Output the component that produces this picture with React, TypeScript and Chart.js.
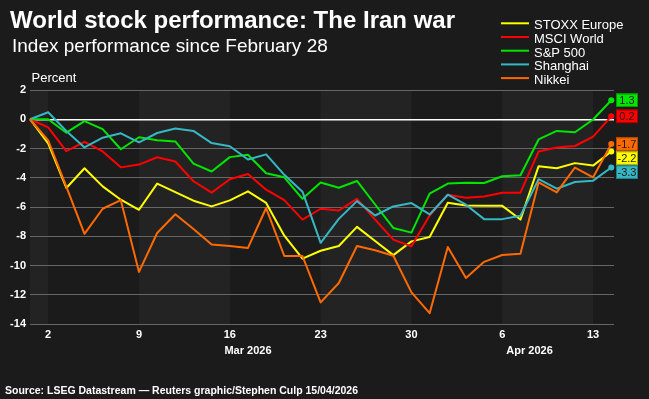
import { useEffect, useRef } from "react";
import { Chart, registerables } from "chart.js";

Chart.register(...registerables);

// Trading days on the x axis (index = position on the axis)
const tradingDays = [
  "2026-02-27",
  "2026-03-02", "2026-03-03", "2026-03-04", "2026-03-05", "2026-03-06",
  "2026-03-09", "2026-03-10", "2026-03-11", "2026-03-12", "2026-03-13",
  "2026-03-16", "2026-03-17", "2026-03-18", "2026-03-19", "2026-03-20",
  "2026-03-23", "2026-03-24", "2026-03-25", "2026-03-26", "2026-03-27",
  "2026-03-30", "2026-03-31", "2026-04-01", "2026-04-02", "2026-04-03",
  "2026-04-06", "2026-04-07", "2026-04-08", "2026-04-09", "2026-04-10",
  "2026-04-13", "2026-04-14",
];

// Weekly tick marks (Mondays) and their labels
const tickDays = ["2026-03-02", "2026-03-09", "2026-03-16", "2026-03-23", "2026-03-30", "2026-04-06", "2026-04-13"];
const tickLabels = ["2", "9", "16", "23", "30", "6", "13"];

const monthKeys = ["2026-03", "2026-04"];
const monthLabels = ["Mar 2026", "Apr 2026"];

// Percent change since February 28
const stoxxEurope = [
  0, -1.65, -4.7, -3.35, -4.59, -5.5, -6.19, -4.4, -4.98, -5.57, -5.96, -5.55, -4.93, -5.72, -7.96, -9.53,
  -8.99, -8.67, -7.36, -8.33, -9.29, -8.35, -8.05, -5.71, -5.89, -5.92, -5.92, -6.86, -3.21, -3.35, -3.0, -3.17, -2.2,
];
const msciWorld = [
  0, -0.55, -2.18, -1.54, -2.2, -3.29, -3.1, -2.6, -2.89, -4.24, -5.02, -4.1, -3.74, -4.82, -5.53, -6.86,
  -6.12, -6.24, -5.44, -6.86, -8.23, -8.69, -6.58, -5.16, -5.36, -5.28, -5.02, -5.02, -2.2, -1.93, -1.83, -1.19, 0.2,
];
const sp500 = [
  0, 0, -0.92, -0.13, -0.68, -2.05, -1.23, -1.43, -1.52, -3.03, -3.57, -2.59, -2.43, -3.69, -3.97, -5.44,
  -4.33, -4.68, -4.22, -5.83, -7.43, -7.75, -5.09, -4.4, -4.35, -4.36, -3.9, -3.83, -1.38, -0.8, -0.89, -0.02, 1.3,
];
const shanghai = [
  0, 0.48, -0.8, -1.93, -1.26, -0.96, -1.58, -0.94, -0.63, -0.8, -1.63, -1.85, -2.75, -2.4, -3.8, -4.95,
  -8.45, -6.81, -5.6, -6.58, -5.96, -5.73, -6.51, -5.16, -5.84, -6.83, -6.83, -6.6, -4.1, -4.75, -4.29, -4.2, -3.3,
];
const nikkei = [
  0, -1.45, -4.6, -7.84, -6.12, -5.53, -10.44, -7.78, -6.5, -7.5, -8.57, -8.66, -8.8, -6.07, -9.35, -9.35,
  -12.52, -11.2, -8.67, -8.96, -9.33, -11.84, -13.26, -8.74, -10.85, -9.75, -9.28, -9.2, -4.31, -5.0, -3.3, -3.97, -1.7,
];

const seriesNames = ["STOXX Europe", "MSCI World", "S&P 500", "Shanghai", "Nikkei"];
const seriesValues = [stoxxEurope, msciWorld, sp500, shanghai, nikkei];
const seriesColors = ["#ffff00", "#ff0000", "#00e600", "#35b8c4", "#ff6a00"];
const seriesBorders = ["#a8a800", "#a80000", "#009900", "#1f7f88", "#b34a00"];

const titleText = "World stock performance: The Iran war";
const subtitleText = "Index performance since February 28";
const unitText = "Percent";
const sourceText = "Source: LSEG Datastream \u2014 Reuters graphic/Stephen Culp 15/04/2026";

const FONT = "'Liberation Sans', Arial, Helvetica, sans-serif";
const PAGE_BG = "#1b1b1b";
const BAND_BG = "#232323";

const tickIndex = tickDays.map((d) => tradingDays.indexOf(d));

// Background with alternating weekly bands
const bandPlugin = {
  id: "bands",
  beforeDraw(chart: any) {
    const { ctx, chartArea, scales } = chart;
    ctx.save();
    ctx.fillStyle = PAGE_BG;
    ctx.fillRect(0, 0, chart.width, chart.height);
    const xs = scales.x;
    const edges = [xs.min, ...tickIndex, xs.max];
    for (let k = 0; k < edges.length - 1; k++) {
      if (k % 2 !== 0) continue;
      const x0 = xs.getPixelForValue(edges[k]);
      const x1 = xs.getPixelForValue(edges[k + 1]);
      ctx.fillStyle = BAND_BG;
      ctx.fillRect(x0, chartArea.top, x1 - x0, chartArea.bottom - chartArea.top);
    }
    ctx.restore();
  },
};

// Value boxes at the right-hand end of each line
const endLabelPlugin = {
  id: "endLabels",
  afterDatasetsDraw(chart: any) {
    const { ctx, chartArea } = chart;
    const boxH = 13.5;
    const step = 14;
    const items = seriesValues.map((vals, k) => {
      const meta = chart.getDatasetMeta(k);
      const pt = meta.data[vals.length - 1];
      return { k, y: pt.y, text: vals[vals.length - 1].toFixed(1) };
    });
    items.sort((a, b) => a.y - b.y);
    let prev = -Infinity;
    for (const it of items) {
      if (it.y < prev + step) it.y = prev + step;
      prev = it.y;
    }
    const x = chartArea.right + 2;
    const w = 22;
    ctx.save();
    for (const it of items) {
      ctx.fillStyle = seriesColors[it.k];
      ctx.fillRect(x, it.y - boxH / 2, w, boxH);
      ctx.strokeStyle = seriesBorders[it.k];
      ctx.lineWidth = 1;
      ctx.strokeRect(x + 0.5, it.y - boxH / 2 + 0.5, w - 1, boxH - 1);
      ctx.fillStyle = "#1a1a1a";
      ctx.font = `11px ${FONT}`;
      ctx.textAlign = "center";
      ctx.textBaseline = "middle";
      ctx.fillText(it.text, x + w / 2, it.y + 0.5);
    }
    ctx.restore();
  },
};

// Titles, legend, month labels and source line
const textPlugin = {
  id: "texts",
  afterDraw(chart: any) {
    const { ctx, scales } = chart;
    ctx.save();
    ctx.fillStyle = "#ffffff";
    ctx.textBaseline = "alphabetic";
    ctx.textAlign = "left";

    ctx.font = `bold 24px ${FONT}`;
    ctx.fillText(titleText, 10, 27.5);

    ctx.font = `19px ${FONT}`;
    ctx.fillText(subtitleText, 12, 51.5);

    ctx.font = `13px ${FONT}`;
    ctx.fillText(unitText, 31.5, 81.5);

    // legend
    const lx = 501;
    const ly = 29.3;
    const rowH = 13.7;
    seriesNames.forEach((name, k) => {
      const y = ly + k * rowH;
      ctx.strokeStyle = seriesColors[k];
      ctx.lineWidth = 2;
      ctx.beginPath();
      ctx.moveTo(lx, y - 6);
      ctx.lineTo(lx + 28, y - 6);
      ctx.stroke();
      ctx.fillStyle = "#ffffff";
      ctx.font = `13px ${FONT}`;
      ctx.fillText(name, lx + 33, y);
    });

    // month labels centred on each month's span
    const xs = scales.x;
    ctx.font = `bold 11px ${FONT}`;
    ctx.textAlign = "center";
    ctx.textBaseline = "middle";
    monthKeys.forEach((key, m) => {
      const first = tradingDays.findIndex((d) => d.startsWith(key));
      const nextKey = monthKeys[m + 1];
      let last = nextKey ? tradingDays.findIndex((d) => d.startsWith(nextKey)) : tradingDays.length - 1;
      if (last < 0) last = tradingDays.length - 1;
      const cx = xs.getPixelForValue((first + last) / 2);
      ctx.fillText(monthLabels[m], cx, 351);
    });

    ctx.textAlign = "left";
    ctx.textBaseline = "alphabetic";
    ctx.font = `bold 10.5px ${FONT}`;
    ctx.fillText(sourceText, 5, 394);
    ctx.restore();
  },
};

export default function App() {
  const canvasRef = useRef<HTMLCanvasElement | null>(null);

  useEffect(() => {
    document.body.style.margin = "0";
    document.body.style.background = PAGE_BG;
    const canvas = canvasRef.current;
    if (!canvas) return;

    const tickFont = { family: FONT, size: 11, weight: "bold" as const };

    const chart = new Chart(canvas, {
      type: "line",
      data: {
        datasets: seriesNames.map((name, k) => ({
          label: name,
          data: seriesValues[k].map((v, i) => ({ x: i, y: v })),
          borderColor: seriesColors[k],
          backgroundColor: seriesColors[k],
          borderWidth: 2,
          borderJoinStyle: "round" as const,
          tension: 0,
          pointRadius: (c: any) => (c.dataIndex === seriesValues[k].length - 1 ? 3 : 0),
          pointBorderWidth: 0,
          pointHoverRadius: 0,
          order: seriesNames.length - k,
          clip: false as any,
        })),
      },
      options: {
        responsive: false,
        animation: false,
        devicePixelRatio: 1,
        events: [],
        layout: { padding: { left: 8, right: 35, top: 90, bottom: 45 } },
        plugins: {
          legend: { display: false },
          tooltip: { enabled: false },
          title: { display: false },
        },
        scales: {
          x: {
            type: "linear",
            min: 0,
            max: 32.15,
            afterBuildTicks: (scale: any) => {
              scale.ticks = tickIndex.map((v) => ({ value: v }));
            },
            afterFit: (scale: any) => {
              scale.height = 30;
            },
            grid: { display: false, drawTicks: false },
            border: { display: false },
            ticks: {
              color: "#ffffff",
              font: tickFont,
              padding: 4,
              maxRotation: 0,
              autoSkip: false,
              callback: (_v: any, idx: number) => tickLabels[idx],
            },
          },
          y: {
            min: -14,
            max: 2,
            afterFit: (scale: any) => {
              scale.width = 22;
            },
            ticks: { stepSize: 2, color: "#ffffff", font: tickFont, padding: 4 },
            grid: {
              color: (c: any) => (c.tick && c.tick.value === 0 ? "#ffffff" : "#666666"),
              lineWidth: (c: any) => (c.tick && c.tick.value === 0 ? 1.5 : 1),
              drawTicks: false,
            },
            border: { display: false },
          },
        },
      },
      plugins: [bandPlugin, endLabelPlugin, textPlugin],
    });

    return () => chart.destroy();
  }, []);

  return (
    <div style={{ width: 649, height: 399, background: PAGE_BG }}>
      <canvas ref={canvasRef} width={649} height={399} style={{ display: "block" }} />
    </div>
  );
}
